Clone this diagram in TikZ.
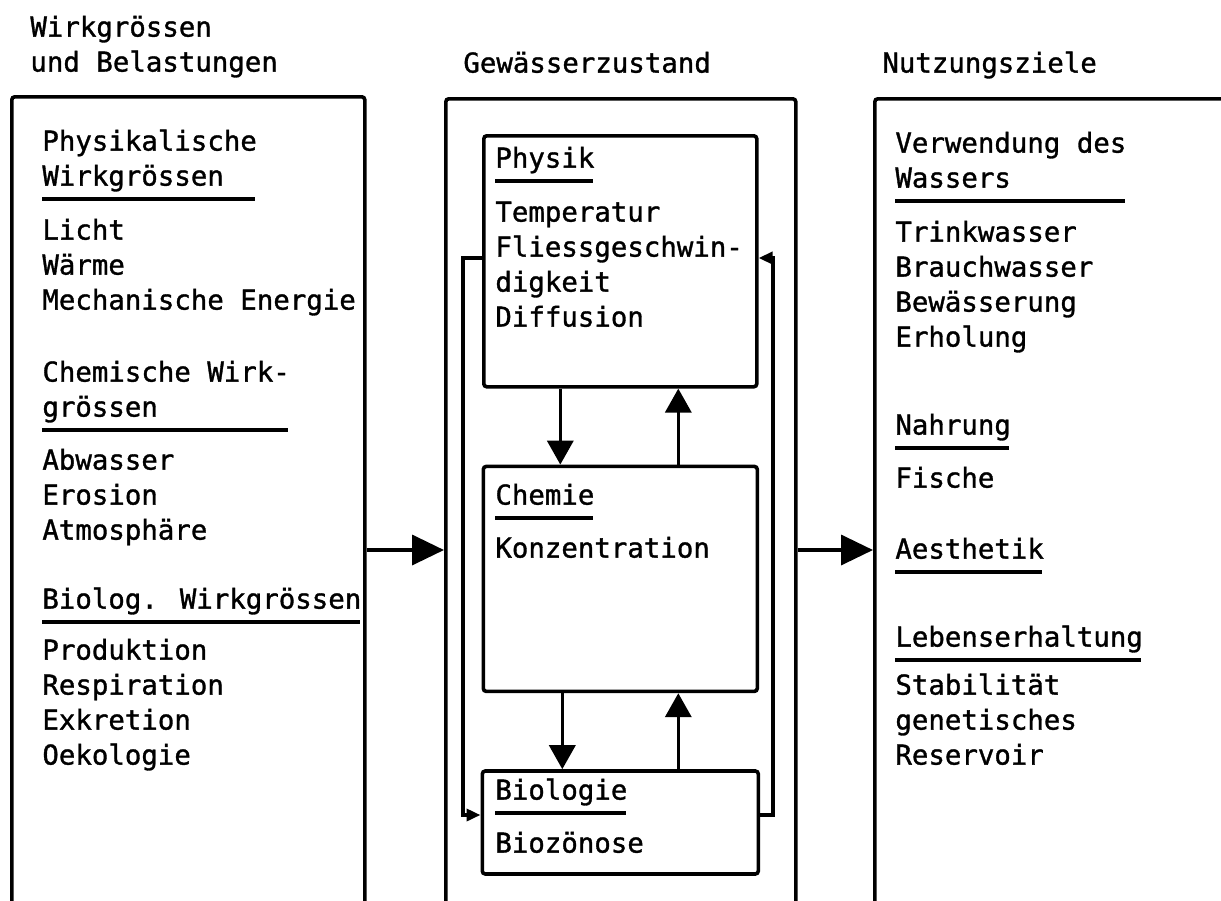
\documentclass[tikz,border=0pt]{standalone}
\usepackage{fontspec}
\newfontfamily\tw{DejaVu Sans Mono}[RawFeature={embolden=1.2}]
\usetikzlibrary{arrows.meta,positioning}
\tikzset{frame/.style ={
        draw=black,
        line width=1.8pt,
        rounded corners=1.5pt,
        anchor=north west,
        inner sep=0,
    },
    txt/.style ={
        font=\tw\fontsize{13.7pt}{17.5pt}\selectfont,
        align=left,
        inner sep=0,
        text depth=0pt,
        anchor=south west,
    },
    ul/.style ={
        draw,
        line width=1.6pt,
    },
    big/.style ={
        draw,
        line width=1.8pt,
        -{Triangle[length=16pt,width=15pt]},
    }}

\begin{document}
\begin{tikzpicture}
    [
    x=0.5pt, y=-0.5pt,
    node distance=38pt,
    a/.style={
        draw,
        line width=1.8pt,
        -{Triangle[length=12pt,width=13pt]}
    },
    fa/.style={
        draw,
        line width=1.8pt,
        -{Triangle[length=7pt,width=6pt]}
    }
    ]
    \useasboundingbox (0,0) rectangle (1221,900);
    \clip (0,0) rectangle (1221,900);

    \node (tl)[txt] at (30,72) {Wirkgrössen\\und Belastungen};
    \node (tm)[txt] at (463,73) {Gewässerzustand};
    \node (tr)[txt] at (882,73) {Nutzungsziele};

    \node (wl)[frame,minimum width=176.5pt,minimum height=450pt] at (10,95) {};
    \node (wz)[frame,minimum width=175pt,minimum height=450pt] at (444,97) {};
    \node (wr)[frame,minimum width=200pt,minimum height=450pt] at (873,97) {};

    % Wirkgroessen
    \node (hphy)[txt] at (42,186) {Physikalische\\Wirkgrössen};
    \node (iphy)[txt] at (42,310) {Licht\\Wärme\\Mechanische Energie};
    \node (hchem)[txt] at (42,417) {Chemische Wirk-\\grössen};
    \node (ichem)[txt] at (42,540) {Abwasser\\Erosion\\Atmosphäre};
    \node (hbio)[txt] at (42,609) {Biolog. Wirkgrössen};
    \node (ibio)[txt] at (42,765) {Produktion\\Respiration\\Exkretion\\Oekologie};

    % Gewaesserzustand
    \node (phys)[frame,minimum width=136.5pt,minimum height=125.5pt] at (482,134) {};
    \node (chem)[frame,minimum width=137pt,minimum height=112.5pt,below=of phys] {};
    \node (bio)[frame,minimum width=138pt,minimum height=51.5pt,below=of chem] {};

    \node (hphys)[txt] at (495,168) {Physik};
    \node (iphys)[txt] at (495,327) {Temperatur\\Fliessgeschwin-\\digkeit\\Diffusion};
    \node (hchemie)[txt] at (495,505) {Chemie};
    \node (ichemie)[txt] at (495,558) {Konzentration};
    \node (hbiol)[txt] at (495,800) {Biologie};
    \node (ibiol)[txt] at (495,853) {Biozönose};

    % Nutzungsziele
    \node (hwas)[txt] at (895,188) {Verwendung des\\Wassers};
    \node (iwas)[txt] at (895,347) {Trinkwasser\\Brauchwasser\\Bewässerung\\Erholung};
    \node (hnah)[txt] at (895,435) {Nahrung};
    \node (inah)[txt] at (895,488) {Fische};
    \node (haes)[txt] at (895,559) {Aesthetik};
    \node (hleb)[txt] at (895,647) {Lebenserhaltung};
    \node (ileb)[txt] at (895,765) {Stabilität\\genetisches\\Reservoir};

    \foreach \h in {hphy,hchem,hbio,hphys,hchemie,hbiol,hwas,hnah,haes,hleb}
        \draw[ul] ([yshift=-6.5pt]\h.south west) -- ([yshift=-6.5pt,xshift=-1pt]\h.south east);

    \coordinate (flow) at (0,550);
    \coordinate (fbtop) at (0,258);
    \coordinate (fbbot) at (0,815);
    \coordinate (fbl) at (463,0);
    \coordinate (fbr) at (773,0);

    \draw[big] (wl.east |- flow) -- (wz.west |- flow);
    \draw[big] (wz.east |- flow) -- (wr.west |- flow);

    \draw[a] ([xshift=-30pt]phys.south) -- ([xshift=-30pt]chem.north);
    \draw[a] ([xshift=29pt]chem.north) -- ([xshift=29pt]phys.south);
    \draw[a] ([xshift=-29pt]chem.south) -- ([xshift=-29pt]bio.north);
    \draw[a] ([xshift=29pt]bio.north) -- ([xshift=29pt]chem.south);

    \draw[fa] (phys.west |- fbtop) -| (fbl |- fbbot) -- (bio.west |- fbbot);
    \draw[fa] (bio.east |- fbbot) -| (fbr |- fbtop) -- (phys.east |- fbtop);

\end{tikzpicture}
\end{document}
